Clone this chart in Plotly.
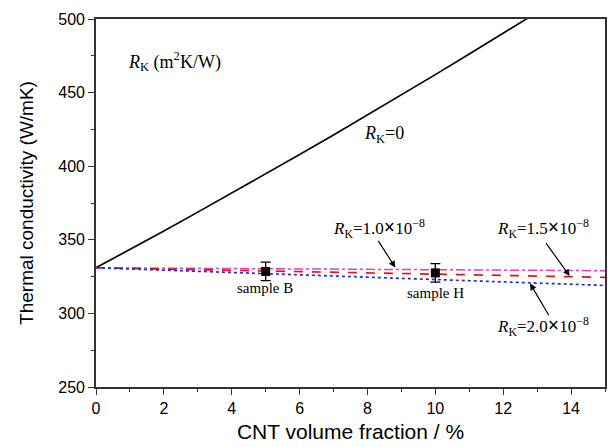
import plotly.graph_objects as go

# Data
x_rk0 = [0, 1, 2, 3, 4, 5, 6, 7, 8, 9, 10, 11, 12, 13]
y_rk0 = [331, 343.4, 356.0, 368.8, 381.7, 394.7, 407.9, 421.2, 434.7, 448.4, 462.2, 476.2, 490.2, 504.5]

x_rk = [0, 5, 10, 15]
y_rk10 = [331, 330.3, 329.6, 329.0]
y_rk15 = [331, 328.8, 326.7, 324.5]
y_rk20 = [331, 327.0, 323.0, 319.0]

x_samples = [5, 10]
y_samples = [328.5, 327.5]
err_samples = [6.3, 6.3]
sample_names = ["sample B", "sample H"]

x_ticks = [0, 2, 4, 6, 8, 10, 12, 14]
y_ticks = [250, 300, 350, 400, 450, 500]

fig = go.Figure()
fig.add_trace(go.Scatter(x=x_rk0, y=y_rk0, mode="lines",
                         line=dict(color="black", width=1.7), showlegend=False))
fig.add_trace(go.Scatter(x=x_rk, y=y_rk10, mode="lines",
                         line=dict(color="#e040c0", width=1.5, dash="dashdot"), showlegend=False))
fig.add_trace(go.Scatter(x=x_rk, y=y_rk15, mode="lines",
                         line=dict(color="#d81818", width=1.7, dash="dash"), showlegend=False))
fig.add_trace(go.Scatter(x=x_rk, y=y_rk20, mode="lines",
                         line=dict(color="#2030c0", width=1.7, dash="dot"), showlegend=False))
fig.add_trace(go.Scatter(x=x_samples, y=y_samples, mode="markers",
                         marker=dict(symbol="square", size=9, color="black"),
                         error_y=dict(type="data", array=err_samples, color="black",
                                      thickness=1.3, width=5),
                         showlegend=False))

serif = "Liberation Serif, Times New Roman, serif"
ann = []
def txt(x, y, s, size=17):
    ann.append(dict(x=x, y=y, xref="x", yref="y", text=s, showarrow=False,
                    font=dict(family=serif, size=size, color="black")))

def arrow(tx, ty, hx, hy):
    ann.append(dict(x=hx, y=hy, ax=tx, ay=ty, xref="x", yref="y", axref="x", ayref="y",
                    text="", showarrow=True, arrowhead=2, arrowsize=1.1, arrowwidth=1.2,
                    arrowcolor="black", standoff=0, startstandoff=0))

RK = "<i>R</i><sub>K</sub>"
TIMES = "<span style='font-size:20px'><b>×</b></span>"
txt(2.32, 471.2, RK + " (m<sup>2</sup>K/W)", size=18)
txt(8.48, 421.3, RK + "=0", size=18)
txt(8.34, 357.4, RK + "=1.0" + TIMES + "10<sup>−8</sup>")
txt(13.18, 357.4, RK + "=1.5" + TIMES + "10<sup>−8</sup>")
txt(13.18, 290.9, RK + "=2.0" + TIMES + "10<sup>−8</sup>")
txt(4.97, 317.0, sample_names[0], size=15)
txt(10.0, 314.0, sample_names[1], size=15)

arrow(8.29, 350.3, 8.82, 331.2)
arrow(13.23, 348.7, 13.96, 325.4)
arrow(13.37, 297.7, 12.79, 320.4)

fig.update_layout(
    width=608, height=447,
    margin=dict(l=96, r=1, t=19, b=60),
    plot_bgcolor="white", paper_bgcolor="white",
    annotations=ann,
    font=dict(family="Liberation Sans, Arial, sans-serif", color="#111"),
)
axis_common = dict(showgrid=False, zeroline=False, showline=True, linecolor="#333",
                   linewidth=1.6, ticks="outside", tickcolor="#333", ticklen=6, tickwidth=1.3,
                   tickfont=dict(size=16, color="#000"), mirror=True)
fig.update_xaxes(range=[0, 15], tickvals=x_ticks,
                 minor=dict(dtick=1, ticks="outside", ticklen=3, tickcolor="#333", tickwidth=1),
                 title=dict(text="CNT volume fraction / %", font=dict(size=21, color="#000"), standoff=8),
                 **axis_common)
fig.update_yaxes(range=[250, 500], tickvals=y_ticks,
                 minor=dict(dtick=25, ticks="outside", ticklen=3, tickcolor="#333", tickwidth=1),
                 title=dict(text="Thermal conductivity (W/mK)", font=dict(size=19, color="#000"), standoff=20),
                 **axis_common)

fig.write_html("out.html")
